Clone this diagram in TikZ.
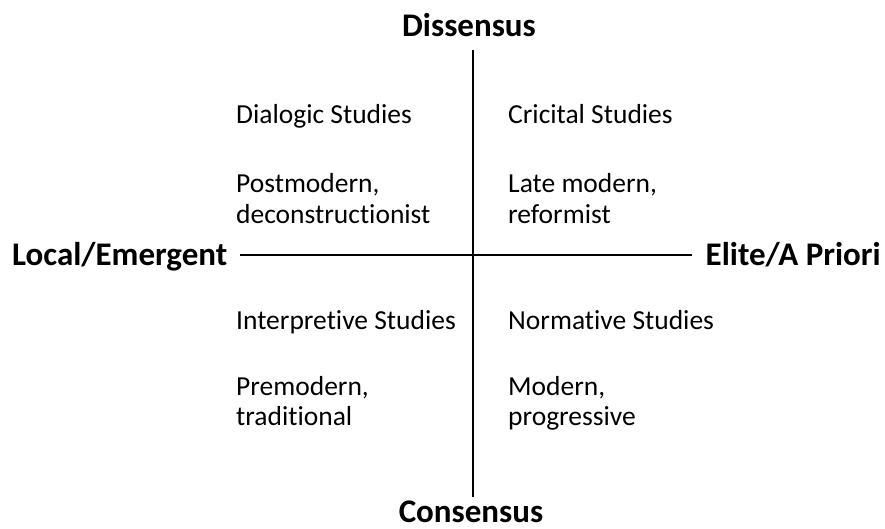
\documentclass[tikz,border=0pt]{standalone}
\usepackage{fontspec}
\setmainfont{Carlito}[Ligatures=NoCommon]
\usetikzlibrary{positioning}
\tikzset{
  quadtext/.style={anchor=base west,inner sep=0pt,align=left,font=\fontsize{27.5}{30}\selectfont},
  axislabel/.style={inner sep=0pt,font=\fontsize{33}{36}\selectfont\bfseries},
  axisline/.style={draw,line width=1.3pt}
}

\begin{document}
\begin{tikzpicture}[x=1pt,y=-1pt]
\useasboundingbox (0,0) rectangle (885,529);
\coordinate (o) at (473,255);
% axis labels
\node[axislabel,anchor=base] (top) at (469,37) {Dissensus};
\node[axislabel,anchor=base] (bottom) at (471,522) {Consensus};
\node[axislabel,anchor=base west] (left) at (12,265) {Local/Emergent};
\node[axislabel,anchor=base east] (right) at (881,265) {Elite/A Priori};
% axes
\draw[axisline,shorten <=13pt,shorten >=3pt] (o |- top.south) -- (o |- bottom.north);
\draw[axisline,shorten <=13pt,shorten >=13pt] (left.east |- o) -- (right.west |- o);
% quadrants
\node[quadtext] (dialogic) at (236,124) {Dialogic Studies};
\node[quadtext] (postmodern) at (236,223) {Postmodern,\\deconstructionist};
\node[quadtext] (critical) at (508,124) {Cricital Studies};
\node[quadtext] (latemodern) at (508,223) {Late modern,\\reformist};
\node[quadtext] (interpretive) at (236,329) {Interpretive Studies};
\node[quadtext] (premodern) at (236,425) {Premodern,\\traditional};
\node[quadtext] (normative) at (508,329) {Normative Studies};
\node[quadtext] (modern) at (508,425) {Modern,\\progressive};
\end{tikzpicture}
\end{document}
